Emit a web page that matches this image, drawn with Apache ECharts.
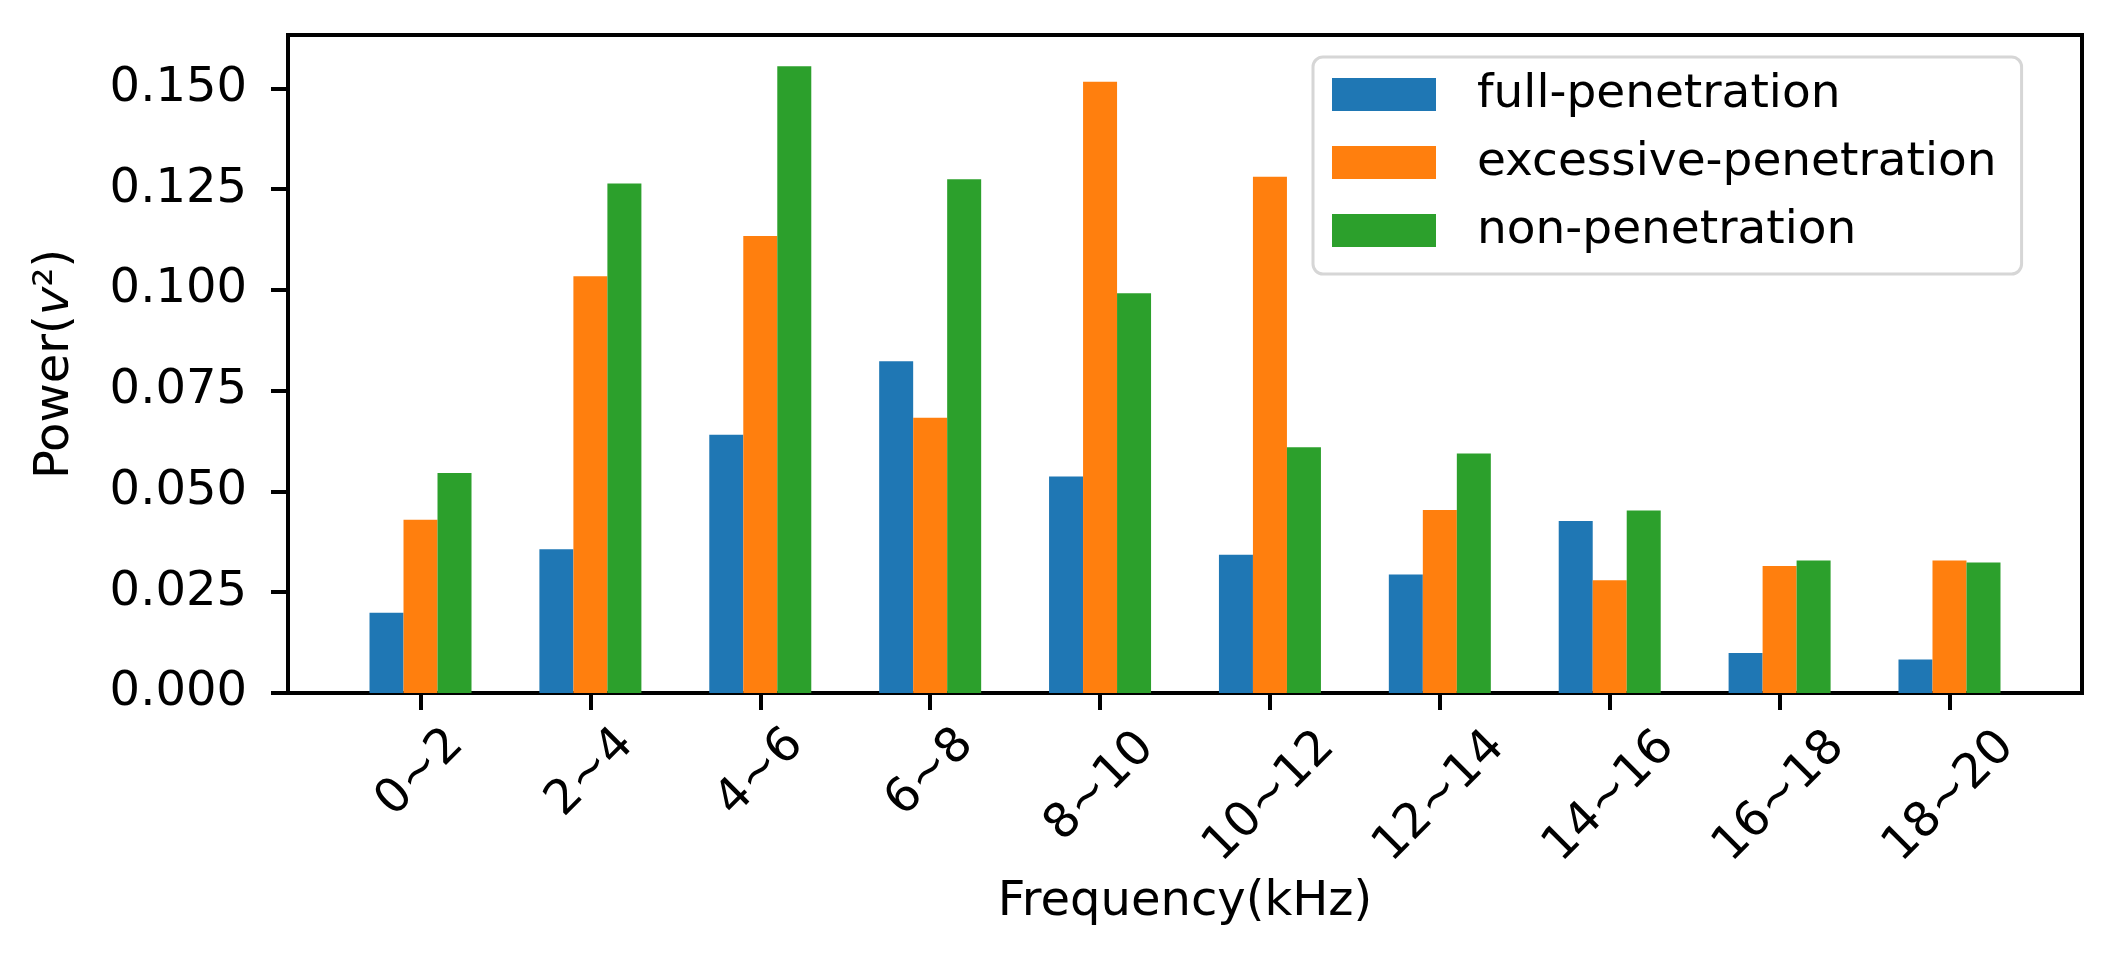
<!DOCTYPE html>
<html>
<head>
<meta charset="utf-8">
<script src="https://cdn.jsdelivr.net/npm/echarts@6/dist/echarts.min.js"></script>
<style>
html,body{margin:0;padding:0;background:#fff;}
#chart{width:2112px;height:958px;}
</style>
</head>
<body>
<div id="chart"></div>
<script>
var categories = ['0~2','2~4','4~6','6~8','8~10','10~12','12~14','14~16','16~18','18~20'];
var seriesNames = ['full-penetration','excessive-penetration','non-penetration'];
var fullPen = [0.0199, 0.0357, 0.0641, 0.0823, 0.0537, 0.0343, 0.0294, 0.0427, 0.0099, 0.0083];
var excessivePen = [0.0430, 0.1034, 0.1134, 0.0683, 0.1517, 0.1281, 0.0454, 0.0280, 0.0315, 0.0329];
var nonPen = [0.0546, 0.1264, 0.1555, 0.1275, 0.0992, 0.0610, 0.0594, 0.0453, 0.0329, 0.0324];
var yTicks = [0, 0.025, 0.05, 0.075, 0.1, 0.125, 0.15];
var colors = ['#1f77b4', '#ff7f0e', '#2ca02c'];

var FONT = 'DejaVu Sans';
var FS = 48;
var LFS = 47;

function toPts(arr) { return arr.map(function (v, i) { return [i, v]; }); }
var xIdx = categories.map(function (c, i) { return i; });
var allVals = fullPen.concat(excessivePen, nonPen);
var yMax = Math.max.apply(null, allVals) * 1.05;

var chart = echarts.init(document.getElementById('chart'), null, {renderer: 'canvas'});
var option = {
  animation: false,
  backgroundColor: '#fff',
  textStyle: {fontFamily: FONT, color: '#000'},
  grid: {
    left: 288, top: 35, width: 1794, height: 658,
    show: true, borderColor: '#000', borderWidth: 4, backgroundColor: 'transparent'
  },
  legend: {
    data: seriesNames,
    orient: 'vertical',
    left: 1313, top: 57,
    icon: 'rect',
    itemWidth: 104, itemHeight: 33,
    itemGap: 21,
    padding: [14, 25, 20, 19],
    borderColor: '#d6d6d6', borderWidth: 3, borderRadius: 10,
    backgroundColor: 'rgba(255,255,255,0.8)',
    textStyle: {fontFamily: FONT, fontSize: LFS, color: '#000', lineHeight: 47, padding: [0, 0, 0, 36]}
  },
  xAxis: {
    type: 'value',
    min: -0.78, max: 9.78,
    name: 'Frequency(kHz)',
    nameLocation: 'middle',
    nameGap: 186,
    nameTextStyle: {fontFamily: FONT, fontSize: FS, color: '#000'},
    axisLine: {show: false, onZero: false},
    splitLine: {show: false},
    axisTick: {show: true, inside: false, length: 17, lineStyle: {color: '#000', width: 4}, customValues: xIdx},
    axisLabel: {
      customValues: xIdx,
      rotate: 45,
      align: 'center',
      verticalAlign: 'middle',
      margin: 80,
      fontFamily: FONT, fontSize: FS, color: '#000',
      formatter: function (v) {
        var s = categories[Math.round(v)];
        if (s === undefined) return '';
        if (s.length === 4) return '{r4|' + s + '}';
        if (s.length >= 5) return '{r5|' + s + '}';
        return '{r3|' + s + '}';
      },
      rich: {
        r3: {fontFamily: FONT, fontSize: FS, color: '#000'},
        r4: {fontFamily: FONT, fontSize: FS, color: '#000', padding: [20, 20, 0, 0]},
        r5: {fontFamily: FONT, fontSize: FS, color: '#000', padding: [34, 34, 0, 0]}
      }
    }
  },
  yAxis: {
    type: 'value',
    min: 0, max: yMax,
    name: 'Power({i|v}²)',
    nameLocation: 'middle',
    nameGap: 208,
    nameRotate: 90,
    nameTextStyle: {
      fontFamily: FONT, fontSize: FS, color: '#000',
      rich: {i: {fontFamily: FONT, fontSize: FS, fontStyle: 'italic', color: '#000'}}
    },
    axisLine: {show: false, onZero: false},
    splitLine: {show: false},
    axisTick: {show: true, inside: false, length: 17, lineStyle: {color: '#000', width: 4}, customValues: yTicks},
    axisLabel: {
      customValues: yTicks,
      margin: 41,
      fontFamily: FONT, fontSize: FS, color: '#000',
      formatter: function (v) { return v.toFixed(3); }
    }
  },
  series: [
    {name: seriesNames[0], type: 'bar', data: toPts(fullPen), barWidth: 34, barGap: '0%', itemStyle: {color: colors[0]}},
    {name: seriesNames[1], type: 'bar', data: toPts(excessivePen), barWidth: 34, barGap: '0%', itemStyle: {color: colors[1]}},
    {name: seriesNames[2], type: 'bar', data: toPts(nonPen), barWidth: 34, barGap: '0%', itemStyle: {color: colors[2]}}
  ]
};
chart.setOption(option);
</script>
</body>
</html>
